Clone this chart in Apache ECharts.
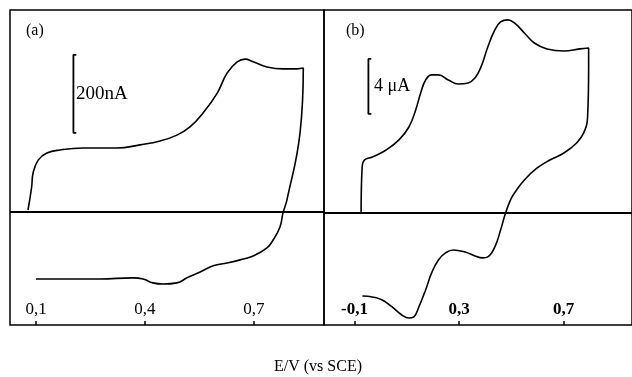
<!DOCTYPE html>
<html><head><meta charset="utf-8">
<script src="https://cdn.jsdelivr.net/npm/echarts@6/dist/echarts.min.js"></script>
<style>html,body{margin:0;padding:0;background:#fff}#c{width:632px;height:377px}</style>
</head><body><div id="c"></div>
<script>
// Panel (a): potential (V vs SCE) and current (nA)
const aPotential = [0.078,0.088,0.092,0.106,0.130,0.166,0.229,0.323,0.386,0.442,0.488,0.524,0.560,0.599,0.626,0.654,0.676,0.698,0.736,0.780,0.819,0.836,
  0.827,0.791,0.780,0.772,0.753,0.736,0.698,0.662,0.626,0.588,0.552,0.516,0.488,0.450,0.422,0.395,0.367,0.276,0.185,0.100];
const aCurrent = [5,64,100,133,151,159,164,164,172,182,197,218,254,305,356,385,392,385,372,367,367,369,
  203,31,-3,-38,-72,-92,-113,-123,-131,-138,-154,-169,-182,-185,-182,-172,-169,-172,-172,-172];
// Panel (b): potential (V vs SCE) and current (µA)
const bPotential = [-0.075,-0.071,-0.062,-0.032,0.021,0.070,0.108,0.134,0.153,0.172,0.195,0.221,0.259,0.297,0.335,0.361,0.384,0.410,0.437,0.459,0.486,0.512,0.550,0.588,0.637,0.701,0.762,0.796,
  0.796,0.792,0.777,0.750,0.701,0.648,0.599,0.550,0.512,0.497,0.478,0.459,0.437,0.410,0.391,0.361,0.323,0.278,0.248,0.221,0.195,0.172,0.146,0.127,0.108,0.081,0.044,0.006,-0.032,-0.070];
const bCurrent = [0,3.35,3.85,4.07,4.58,5.31,6.25,7.49,8.73,9.67,10.04,10.04,9.67,9.38,9.45,9.82,10.62,12.07,13.31,13.89,14.04,13.82,13.09,12.36,11.93,11.78,11.93,12.0,
  10.62,6.98,5.82,5.09,4.36,3.85,3.27,2.40,1.45,0.95,0,-1.24,-2.47,-3.2,-3.27,-3.13,-2.84,-2.69,-2.91,-3.42,-4.36,-5.6,-6.84,-7.56,-7.64,-7.42,-6.84,-6.33,-6.11,-6.04];
// tick labels
const aTicks = [0.1, 0.4, 0.7];
const bTicks = [-0.1, 0.3, 0.7];
// scale bars: [potential, currentLow, currentHigh]
const aScaleBar = [0.203, 203, 403];
const bScaleBar = [-0.047, 7.2, 11.2];
const aScaleText = '200nA';
const bScaleText = '4 μA';
const xTitle = 'E/V (vs SCE)';

const zip = (xs, ys) => xs.map((x, i) => [x, ys[i]]);
const bar = (s, d) => [[s[0] + d, s[2]], [s[0], s[2]], [s[0], s[1]], [s[0] + d, s[1]]];
const fmt = v => v.toFixed(1).replace('.', ',');
const serif = '"Liberation Serif", "DejaVu Serif", serif';

const chart = echarts.init(document.getElementById('c'));
const xAxisBase = (min, max, ticks, gi, bold) => ({
  type: 'value', gridIndex: gi, min, max,
  axisLine: { show: false, onZero: false }, splitLine: { show: false },
  axisTick: { show: true, inside: true, length: 4, lineStyle: { color: '#000', width: 1.5 }, customValues: ticks },
  axisLabel: { show: true, inside: true, margin: 7, customValues: ticks, formatter: fmt,
    color: '#000', fontFamily: serif, fontSize: 17, fontWeight: bold ? 'bold' : 'normal' }
});
const zeroLine = { silent: true, symbol: 'none', label: { show: false },
  lineStyle: { color: '#000', width: 2, type: 'solid' }, data: [{ yAxis: 0 }] };
const curve = { type: 'line', showSymbol: false, symbol: 'none', smooth: 0.45,
  lineStyle: { color: '#000', width: 1.6 }, animation: false };

chart.setOption({
  animation: false,
  grid: [
    { left: 10, top: 10, width: 314, height: 315, show: true, borderColor: '#000', borderWidth: 1.5, backgroundColor: 'transparent' },
    { left: 324, top: 10, width: 312, height: 315, show: true, borderColor: '#000', borderWidth: 1.5, backgroundColor: 'transparent' }
  ],
  xAxis: [ xAxisBase(0.0284, 0.893, aTicks, 0, false), xAxisBase(-0.217, 0.962, bTicks, 1, true) ],
  yAxis: [
    { type: 'value', gridIndex: 0, min: -290, max: 518, show: false },
    { type: 'value', gridIndex: 1, min: -8.15, max: 14.76, show: false }
  ],
  series: [
    Object.assign({}, curve, { xAxisIndex: 0, yAxisIndex: 0, data: zip(aPotential, aCurrent), markLine: zeroLine }),
    Object.assign({}, curve, { xAxisIndex: 1, yAxisIndex: 1, data: zip(bPotential, bCurrent), markLine: zeroLine }),
    { type: 'line', xAxisIndex: 0, yAxisIndex: 0, symbol: 'none', smooth: false, lineStyle: { color: '#000', width: 1.8 }, data: bar(aScaleBar, 0.008) },
    { type: 'line', xAxisIndex: 1, yAxisIndex: 1, symbol: 'none', smooth: false, lineStyle: { color: '#000', width: 1.8 }, data: bar(bScaleBar, 0.011) }
  ],
  graphic: [
    { type: 'text', left: 26, top: 23, style: { text: '(a)', font: '16px ' + serif, fill: '#000' } },
    { type: 'text', left: 346, top: 23, style: { text: '(b)', font: '16px ' + serif, fill: '#000' } },
    { type: 'text', left: 76, top: 85, style: { text: aScaleText, font: '19px ' + serif, fill: '#000' } },
    { type: 'text', left: 374, top: 77, style: { text: bScaleText, font: '18px ' + serif, fill: '#000' } },
    { type: 'text', x: 318, y: 367, style: { text: xTitle, font: '16px ' + serif, fill: '#000', align: 'center', verticalAlign: 'middle' } }
  ]
});
</script></body></html>
